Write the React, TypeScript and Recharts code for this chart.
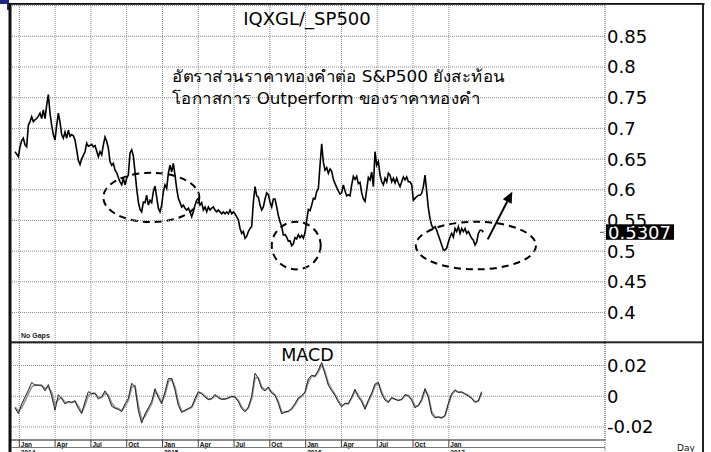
import React from 'react';
import {
  CartesianGrid,
  Line,
  LineChart,
  ReferenceArea,
  ReferenceLine,
  XAxis,
  YAxis,
} from 'recharts';

// IQXGL / S&P500 ratio, every ~3 trading days (first point mid Dec 2013)
const ratio = [
  0.662, 0.658, 0.654, 0.670, 0.680, 0.684, 0.673, 0.670, 0.705, 0.711,
  0.719, 0.711, 0.714, 0.716, 0.720, 0.725, 0.716, 0.730, 0.716, 0.738,
  0.755, 0.725, 0.705, 0.690, 0.681, 0.705, 0.725, 0.710, 0.690, 0.684,
  0.694, 0.684, 0.697, 0.687, 0.690, 0.688, 0.681, 0.665, 0.648, 0.641,
  0.650, 0.656, 0.662, 0.676, 0.671, 0.672, 0.674, 0.670, 0.672, 0.663,
  0.654, 0.662, 0.657, 0.673, 0.686, 0.679, 0.668, 0.646, 0.640, 0.643,
  0.632, 0.628, 0.620, 0.613, 0.608, 0.619, 0.608, 0.619, 0.624, 0.660,
  0.665, 0.655, 0.629, 0.602, 0.580, 0.568, 0.564, 0.580, 0.579, 0.591,
  0.575, 0.583, 0.579, 0.597, 0.606, 0.588, 0.570, 0.564, 0.575, 0.597,
  0.608, 0.602, 0.627, 0.640, 0.629, 0.643, 0.624, 0.602, 0.586, 0.579,
  0.572, 0.575, 0.570, 0.567, 0.570, 0.564, 0.556, 0.564, 0.575, 0.583,
  0.586, 0.575, 0.579, 0.567, 0.572, 0.564, 0.572, 0.567, 0.570, 0.572,
  0.567, 0.564, 0.567, 0.564, 0.561, 0.564, 0.561, 0.564, 0.561, 0.567,
  0.561, 0.564, 0.561, 0.556, 0.551, 0.537, 0.529, 0.532, 0.521, 0.524,
  0.532, 0.537, 0.540, 0.580, 0.605, 0.590, 0.588, 0.575, 0.567, 0.572,
  0.585, 0.595, 0.592, 0.580, 0.572, 0.585, 0.585, 0.572, 0.558, 0.548,
  0.540, 0.526, 0.527, 0.523, 0.516, 0.517, 0.509, 0.512, 0.522, 0.520,
  0.527, 0.522, 0.526, 0.521, 0.530, 0.550, 0.568, 0.566, 0.575, 0.586,
  0.585, 0.597, 0.602, 0.640, 0.675, 0.645, 0.632, 0.636, 0.627, 0.634,
  0.630, 0.617, 0.610, 0.604, 0.598, 0.593, 0.595, 0.608, 0.598, 0.590,
  0.592, 0.590, 0.608, 0.622, 0.617, 0.622, 0.610, 0.612, 0.595, 0.585,
  0.581, 0.600, 0.620, 0.616, 0.629, 0.605, 0.662, 0.640, 0.646, 0.624,
  0.613, 0.608, 0.619, 0.613, 0.627, 0.624, 0.613, 0.619, 0.611, 0.619,
  0.611, 0.605, 0.613, 0.621, 0.616, 0.621, 0.613, 0.613, 0.608, 0.583,
  0.586, 0.589, 0.591, 0.591, 0.594, 0.605, 0.624, 0.597, 0.570, 0.553,
  0.542, 0.537, 0.540, 0.534, 0.526, 0.518, 0.510, 0.502, 0.502, 0.505,
  0.515, 0.523, 0.529, 0.523, 0.537, 0.532, 0.540, 0.529, 0.537, 0.532,
  0.537, 0.529, 0.532, 0.526, 0.521, 0.518, 0.510, 0.515, 0.529, 0.534,
  0.534, 0.531,
];

// MACD and its signal line, every ~6 trading days
const macd = [
  -0.0075, -0.0113, -0.0050, -0.0005, 0.0039, 0.0090, 0.0072, 0.0072, 0.0072, 0.0035,
  0.0076, 0.0000, -0.0091, 0.0010, -0.0015, -0.0050, -0.0034, -0.0041, -0.0030, -0.0080,
  -0.0113, -0.0035, 0.0030, 0.0017, 0.0020, -0.0018, -0.0004, 0.0035, -0.0004, -0.0065,
  -0.0078, -0.0085, -0.0100, -0.0048, -0.0015, 0.0085, 0.0061, -0.0095, -0.0175, -0.0115,
  -0.0075, -0.0035, 0.0050, -0.0010, -0.0048, 0.0030, 0.0115, 0.0115, 0.0040, -0.0060,
  -0.0106, -0.0091, -0.0080, -0.0069, -0.0015, 0.0030, 0.0017, -0.0005, -0.0022, -0.0015,
  0.0011, -0.0010, -0.0020, -0.0018, -0.0010, 0.0000, -0.0005, -0.0035, -0.0080, -0.0102,
  -0.0070, 0.0000, 0.0150, 0.0115, 0.0050, 0.0035, 0.0060, 0.0020, 0.0007, -0.0045,
  -0.0115, -0.0102, -0.0098, -0.0080, -0.0048, -0.0010, 0.0004, 0.0028, 0.0115, 0.0137,
  0.0130, 0.0170, 0.0220, 0.0145, 0.0072, 0.0036, 0.0005, -0.0037, -0.0069, -0.0045,
  -0.0048, -0.0005, 0.0045, -0.0004, -0.0035, -0.0085, -0.0026, 0.0020, 0.0080, 0.0090,
  0.0015, -0.0026, -0.0040, -0.0008, -0.0020, -0.0028, -0.0020, 0.0011, 0.0003, -0.0025,
  -0.0075, -0.0059, -0.0020, 0.0050, -0.0005, -0.0115, -0.0141, -0.0135, -0.0141, -0.0125,
  -0.0045, 0.0017, 0.0042, 0.0025, 0.0028, 0.0014, 0.0003, -0.0015, -0.0040, -0.0030,
  0.0030,
];

const signal = [
  -0.0070, -0.0095, -0.0075, -0.0030, 0.0015, 0.0060, 0.0075, 0.0072, 0.0070, 0.0050,
  0.0060, 0.0025, -0.0055, -0.0020, -0.0010, -0.0040, -0.0038, -0.0040, -0.0033, -0.0065,
  -0.0105, -0.0060, 0.0005, 0.0018, 0.0018, -0.0005, -0.0008, 0.0020, 0.0008, -0.0045,
  -0.0072, -0.0082, -0.0095, -0.0065, -0.0025, 0.0060, 0.0068, -0.0060, -0.0155, -0.0130,
  -0.0088, -0.0048, 0.0030, 0.0005, -0.0038, 0.0010, 0.0095, 0.0112, 0.0060, -0.0040,
  -0.0095, -0.0095, -0.0083, -0.0072, -0.0030, 0.0020, 0.0020, 0.0002, -0.0018, -0.0017,
  0.0005, -0.0005, -0.0018, -0.0018, -0.0012, -0.0003, -0.0004, -0.0028, -0.0070, -0.0095,
  -0.0078, -0.0015, 0.0120, 0.0120, 0.0062, 0.0040, 0.0055, 0.0028, 0.0010, -0.0035,
  -0.0102, -0.0105, -0.0099, -0.0084, -0.0055, -0.0018, 0.0000, 0.0022, 0.0095, 0.0130,
  0.0130, 0.0160, 0.0205, 0.0160, 0.0085, 0.0045, 0.0012, -0.0030, -0.0062, -0.0050,
  -0.0048, -0.0012, 0.0035, 0.0005, -0.0028, -0.0075, -0.0035, 0.0010, 0.0068, 0.0085,
  0.0028, -0.0018, -0.0036, -0.0012, -0.0018, -0.0026, -0.0021, 0.0005, 0.0004, -0.0020,
  -0.0065, -0.0062, -0.0028, 0.0038, 0.0002, -0.0100, -0.0135, -0.0136, -0.0140, -0.0128,
  -0.0055, 0.0008, 0.0036, 0.0027, 0.0027, 0.0016, 0.0005, -0.0012, -0.0035, -0.0032,
  0.0020,
];

// x is in months since Jan 2014
const FIRST_MONTH = -0.36;
const RATIO_STEP = 0.1397;
const MACD_STEP = 0.2794;
const X_DOMAIN = [-0.696, 49.09];
const monthTicks = [0, 3, 6, 9, 12, 15, 18, 21, 24, 27, 30, 33, 36];
const monthLabels = ['Jan', 'Apr', 'Jul', 'Oct'];
const yearLabels = ['2014', '2015', '2016', '2017'];

const ratioTicks = [0.4, 0.45, 0.5, 0.55, 0.6, 0.65, 0.7, 0.75, 0.8, 0.85, 0.9];
const RATIO_DOMAIN = [0.352, 0.901];
const macdTicks = [-0.02, 0, 0.02];
const MACD_DOMAIN = [-0.0285, 0.0347];
const LAST_PRICE = 0.5307;

const noteLines = [
  'อัตราส่วนราคาทองคำต่อ S&P500 ยังสะท้อน',
  'โอกาสการ Outperform ของราคาทองคำ',
];

// hand-drawn annotations, in data units
const ellipses = [
  { x1: 7.04, x2: 15.09, y1: 0.5474, y2: 0.6277 },
  { x1: 21.16, x2: 25.26, y1: 0.4703, y2: 0.5478 },
  { x1: 33.23, x2: 43.31, y1: 0.4703, y2: 0.5478 },
];
const arrowSegment = [
  { x: 39.26, y: 0.5192 },
  { x: 41.32, y: 0.5968 },
];

const ratioRows = ratio.map((v, i) => ({ m: FIRST_MONTH + i * RATIO_STEP, ratio: v }));
const macdRows = macd.map((v, i) => ({ m: FIRST_MONTH + i * MACD_STEP, macd: v, signal: signal[i] }));

const FONT = '"DejaVu Sans", Verdana, sans-serif';
const SMALL_FONT = '"Liberation Sans", Arial, sans-serif';
const GRID = '#8a8a8a';

const RightTick = (props: any) => {
  const { x, y, payload, skip } = props;
  if (skip !== undefined && Math.abs(payload.value - skip) < 1e-9) return <g />;
  return (
    <text x={x} y={y} dy="0.36em" fontSize={18} fontFamily={FONT} fill="#000" textAnchor="start">
      {String(payload.value)}
    </text>
  );
};

const MonthTick = (props: any) => {
  const { x, y, payload } = props;
  const q = Math.round(payload.value / 3) % 4;
  const year = q === 0 ? yearLabels[Math.round(payload.value / 12)] : null;
  return (
    <g>
      <line x1={x} y1={y} x2={x} y2={y + 7} stroke="#444" />
      <text x={x + 1.5} y={y + 6.5} fontSize={6.5} fontWeight="bold" fontFamily={SMALL_FONT} fill="#111">
        {monthLabels[q]}
      </text>
      {year && (
        <text x={x + 1.5} y={y + 14.5} fontSize={6.5} fontWeight="bold" fontFamily={SMALL_FONT} fill="#111">
          {year}
        </text>
      )}
    </g>
  );
};

const DashedEllipse = (props: any) => {
  const { x, y, width, height } = props;
  return (
    <ellipse
      cx={x + width / 2}
      cy={y + height / 2}
      rx={Math.abs(width) / 2}
      ry={Math.abs(height) / 2}
      fill="none"
      stroke="#000"
      strokeWidth={2}
      strokeDasharray="7 5"
    />
  );
};

const ArrowShape = (props: any) => {
  const { x1, y1, x2, y2 } = props;
  const dx = x2 - x1;
  const dy = y2 - y1;
  const len = Math.sqrt(dx * dx + dy * dy) || 1;
  const ux = dx / len;
  const uy = dy / len;
  const head = 11;
  const half = 5;
  const bx = x2 - ux * head;
  const by = y2 - uy * head;
  return (
    <g>
      <line x1={x1} y1={y1} x2={bx} y2={by} stroke="#000" strokeWidth={2} />
      <polygon
        points={`${x2},${y2} ${bx - uy * half},${by + ux * half} ${bx + uy * half},${by - ux * half}`}
        fill="#000"
      />
    </g>
  );
};

const PriceTag = (props: any) => {
  const vb = props.viewBox || {};
  const right = (vb.x || 0) + (vb.width || 0);
  const cy = vb.y || 0;
  return (
    <g>
      <line x1={right - 5} y1={cy} x2={right - 1} y2={cy} stroke="#555" />
      <rect x={right + 1} y={cy - 8} width={68} height={15.5} fill="#000" />
      <text x={right + 3} y={cy} dy="0.36em" fontSize={18} fontFamily={FONT} fill="#fff">
        {LAST_PRICE.toFixed(4)}
      </text>
    </g>
  );
};

export default function App() {
  return (
    <div
      style={{
        position: 'absolute',
        left: 0,
        top: 0,
        width: 711,
        height: 452,
        background: '#fff',
        overflow: 'hidden',
      }}
    >
      <div style={{ position: 'absolute', left: 0, top: 0 }}>
        <LineChart width={711} height={342} data={ratioRows} margin={{ top: 5, right: 0, bottom: 0, left: 11 }}>
          <XAxis type="number" dataKey="m" domain={X_DOMAIN} allowDataOverflow ticks={monthTicks} hide />
          <YAxis
            orientation="right"
            width={106}
            domain={RATIO_DOMAIN}
            allowDataOverflow
            ticks={ratioTicks}
            interval={0}
            tickLine={false}
            tickSize={0}
            tickMargin={2}
            axisLine={{ stroke: '#666', strokeDasharray: '1 1' }}
            tick={<RightTick skip={0.9} />}
          />
          {ratioTicks.map((v) => (
            <ReferenceLine key={`hg-${v}`} y={v} stroke={GRID} strokeDasharray="1 1" />
          ))}
          {monthTicks.map((m) => (
            <ReferenceLine key={`vg-${m}`} x={m} stroke={GRID} strokeDasharray="1 1" />
          ))}
          {ellipses.map((e, i) => (
            <ReferenceArea key={`ell-${i}`} x1={e.x1} x2={e.x2} y1={e.y1} y2={e.y2} shape={DashedEllipse} />
          ))}
          <ReferenceLine segment={arrowSegment} shape={ArrowShape} />
          <Line
            type="linear"
            dataKey="ratio"
            stroke="#000"
            strokeWidth={1.6}
            dot={false}
            activeDot={false}
            isAnimationActive={false}
          />
          <ReferenceLine y={LAST_PRICE} stroke="none" label={<PriceTag />} />
        </LineChart>
      </div>

      <div style={{ position: 'absolute', left: 0, top: 342 }}>
        <LineChart width={711} height={110} data={macdRows} margin={{ top: 1, right: 0, bottom: 0, left: 11 }}>
          <CartesianGrid stroke={GRID} strokeDasharray="1 1" />
          <XAxis
            type="number"
            dataKey="m"
            domain={X_DOMAIN}
            allowDataOverflow
            ticks={monthTicks}
            interval={0}
            height={12}
            tickLine={false}
            tickSize={0}
            tickMargin={0}
            axisLine={{ stroke: '#333' }}
            tick={<MonthTick />}
          />
          <YAxis
            orientation="right"
            width={106}
            domain={MACD_DOMAIN}
            allowDataOverflow
            ticks={macdTicks}
            interval={0}
            tickLine={false}
            tickSize={0}
            tickMargin={2}
            axisLine={{ stroke: '#666', strokeDasharray: '1 1' }}
            tick={<RightTick />}
          />
          <Line
            type="linear"
            dataKey="signal"
            stroke="#9a9a9a"
            strokeWidth={1.8}
            dot={false}
            activeDot={false}
            isAnimationActive={false}
          />
          <Line
            type="linear"
            dataKey="macd"
            stroke="#222"
            strokeWidth={1}
            dot={false}
            activeDot={false}
            isAnimationActive={false}
          />
        </LineChart>
      </div>

      <svg
        width={711}
        height={452}
        style={{ position: 'absolute', left: 0, top: 0, pointerEvents: 'none' }}
      >
        <rect x={0} y={0} width={8} height={4} fill="#1b2a80" />
        <rect x={7} y={0} width={2} height={10} fill="#1b2a80" />
        <rect x={8.5} y={3} width={696} height={1.8} fill="#111" />
        <rect x={8.5} y={3} width={3} height={452} fill="#111" />
        <rect x={702} y={3} width={2} height={452} fill="#222" />
        <rect x={10} y={341.3} width={693} height={2} fill="#222" />
        <line x1={11} y1={447.5} x2={605} y2={447.5} stroke="#777" />
        <line x1={605} y1={440} x2={605} y2={452} stroke="#666" strokeDasharray="1 1" />

        <text x={307} y={25} textAnchor="middle" fontSize={18} fontFamily={FONT} fill="#000">
          IQXGL/_SP500
        </text>
        <text x={172} y={81.5} fontSize={16} fontFamily={FONT} fill="#000" textLength={333} lengthAdjust="spacingAndGlyphs">
          {noteLines[0]}
        </text>
        <text x={172} y={103.5} fontSize={16} fontFamily={FONT} fill="#000" textLength={308} lengthAdjust="spacingAndGlyphs">
          {noteLines[1]}
        </text>
        <text x={21} y={337.5} fontSize={7} fontWeight="bold" fontFamily={SMALL_FONT} fill="#222">
          No  Gaps
        </text>
        <text x={307.5} y={360.5} textAnchor="middle" fontSize={17.5} fontFamily={FONT} fill="#000">
          MACD
        </text>
        <text x={677} y={450.5} fontSize={9} fontFamily={FONT} fill="#111">
          Day
        </text>
      </svg>
    </div>
  );
}
